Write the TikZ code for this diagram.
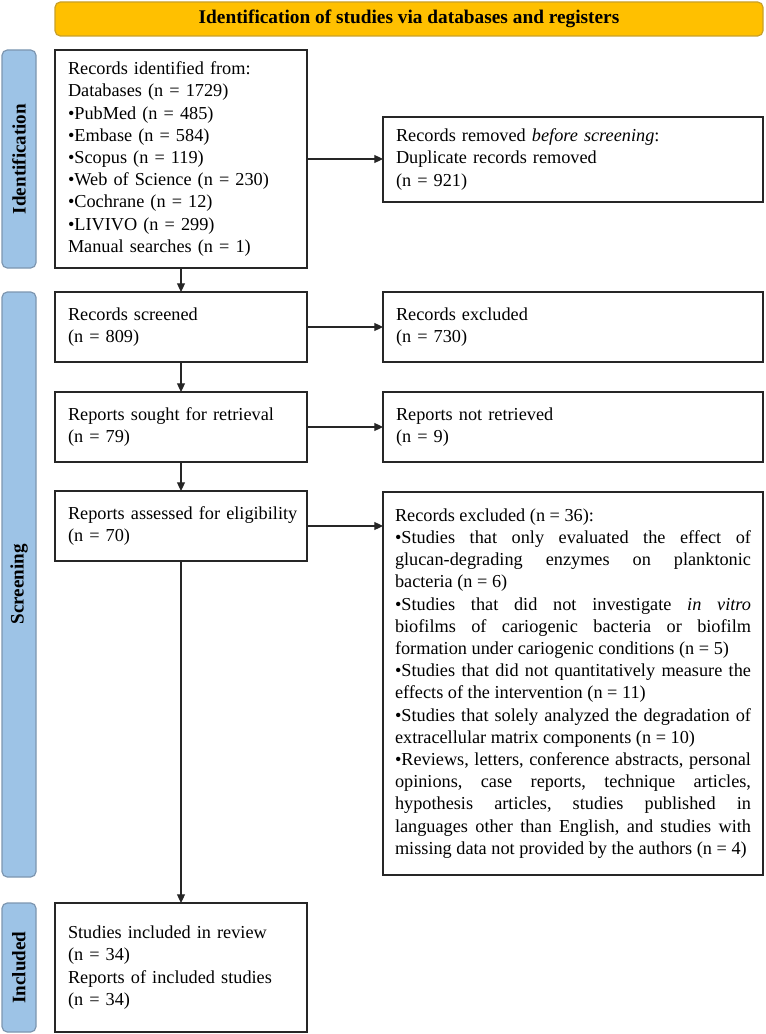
\documentclass[tikz,border=0pt]{standalone}
\usepackage{fontspec}
\setmainfont{Liberation Serif}
\usetikzlibrary{arrows.meta}
\definecolor{bannerfill}{HTML}{FFC000}
\definecolor{bannerdraw}{HTML}{C8A02A}
\definecolor{sidefill}{HTML}{9DC3E6}
\definecolor{sidedraw}{HTML}{7D96B0}
\definecolor{boxdraw}{HTML}{262626}
\begin{document}
\begin{tikzpicture}[x=0.75pt,y=-0.75pt,
  every node/.style={font=\fontsize{13.7}{16.65}\selectfont, outer sep=0pt},
  banner/.style={draw=bannerdraw, fill=bannerfill, line width=0.9pt, rounded corners=4pt,
    minimum width=531pt, minimum height=25.5pt, inner sep=0pt, font=\fontsize{14.5}{16.65}\selectfont\bfseries},
  sidebar/.style={draw=sidedraw, fill=sidefill, line width=0.9pt, rounded corners=4pt,
    minimum width=25.5pt, inner sep=0pt},
  sidelabel/.style={rotate=90, font=\fontsize{14.3}{16.65}\selectfont\bfseries, inner sep=0pt},
  leftbox/.style={draw=boxdraw, line width=1.1pt, minimum width=189pt, text width=183pt,
    inner xsep=3pt, inner ysep=0pt, align=left},
  rightbox/.style={draw=boxdraw, line width=1.1pt, minimum width=285pt, text width=279pt,
    inner xsep=3pt, inner ysep=0pt, align=left},
  arr/.style={draw=boxdraw, line width=0.8pt, -{Triangle[length=6.5pt,width=6pt]}},
]
\useasboundingbox (0,0) rectangle (765,1034);

\node[banner] (banner) at (409,19) {Identification of studies via databases and registers};

\node[sidebar, minimum height=163.5pt] (sideid) at (19,159) {};
\node[sidelabel] (sideidlab) at (19,159) {Identification};
\node[sidebar, minimum height=438.75pt] (sidescr) at (19,584.5) {};
\node[sidelabel] (sidescrlab) at (19,584.5) {Screening};
\node[sidebar, minimum height=96.75pt] (sideinc) at (19,967.5) {};
\node[sidelabel] (sideinclab) at (19,967.5) {Included};

\node[leftbox, minimum height=163.5pt] (ident) at (181,159) {\leftskip=6.75pt Records identified from:\\
Databases (n = 1729)\\
•PubMed (n = 485)\\
•Embase (n = 584)\\
•Scopus (n = 119)\\
•Web of Science (n = 230)\\
•Cochrane (n = 12)\\
•LIVIVO (n = 299)\\
Manual searches (n = 1)\par};

\node[rightbox, minimum height=63.75pt] (removed) at (573,159.5) {\leftskip=6.75pt Records removed \textit{before screening}:\\
Duplicate records removed\\
(n = 921)\par};

\node[leftbox, minimum height=52.5pt] (screened) at (181,327) {\leftskip=6.75pt Records screened\\(n = 809)\par};
\node[rightbox, minimum height=52.5pt] (excl) at (573,327) {\leftskip=6.75pt Records excluded\\(n = 730)\par};

\node[leftbox, minimum height=52.5pt] (sought) at (181,427) {\leftskip=6.75pt Reports sought for retrieval\\(n = 79)\par};
\node[rightbox, minimum height=52.5pt] (notret) at (573,427) {\leftskip=6.75pt Reports not retrieved\\(n = 9)\par};

\node[leftbox, minimum height=52.5pt] (assessed) at (181,526) {\leftskip=6.75pt Reports assessed for eligibility\\(n = 70)\par};

\node[rightbox, minimum height=287.25pt, text width=267pt, inner xsep=9pt, align=justify] (big) at (573,683.5) {%
\hyphenpenalty=10000 \exhyphenpenalty=10000 \tolerance=10000 \frenchspacing
\spaceskip=0.25em plus 1em minus 0.15em
Records excluded (n = 36):\par
•Studies that only evaluated the effect of\linebreak glucan-degrading enzymes on planktonic\linebreak bacteria (n = 6)\par
•Studies that did not investigate \textit{in vitro}\linebreak biofilms of cariogenic bacteria or biofilm\linebreak formation under cariogenic conditions (n = 5)\par
•Studies that did not quantitatively measure the\linebreak effects of the intervention (n = 11)\par
•Studies that solely analyzed the degradation of\linebreak extracellular matrix components (n = 10)\par
•Reviews, letters, conference abstracts, personal\linebreak opinions, case reports, technique articles,\linebreak hypothesis articles, studies published in\linebreak languages other than English, and studies with\linebreak missing data not provided by the authors (n = 4)};

\node[leftbox, minimum height=96.75pt] (included) at (181,967.5) {\leftskip=6.75pt Studies included in review\\
(n = 34)\\
Reports of included studies\\
(n = 34)\par};

\draw[arr] (ident.east) -- (ident.east -| removed.west);
\draw[arr] (screened.east) -- (excl.west);
\draw[arr] (sought.east) -- (notret.west);
\draw[arr] (assessed.east) -- (assessed.east -| big.west);
\draw[arr] (ident.south) -- (screened.north);
\draw[arr] (screened.south) -- (sought.north);
\draw[arr] (sought.south) -- (assessed.north);
\draw[arr] (assessed.south) -- (included.north);
\end{tikzpicture}
\end{document}
